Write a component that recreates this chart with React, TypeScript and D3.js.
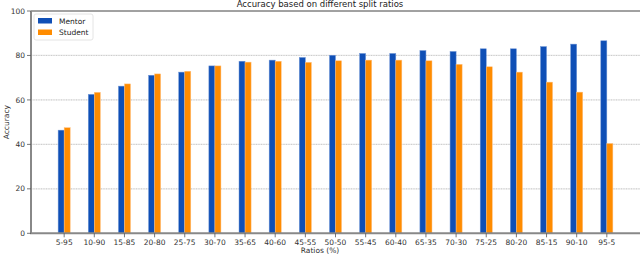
import * as d3 from 'd3';
import { useEffect, useRef } from 'react';

const categories = ['5-95', '10-90', '15-85', '20-80', '25-75', '30-70', '35-65', '40-60', '45-55', '50-50',
  '55-45', '60-40', '65-35', '70-30', '75-25', '80-20', '85-15', '90-10', '95-5'];
const mentor = [46.4, 62.5, 66.2, 71.1, 72.5, 75.3, 77.4, 77.9, 79.1, 80.1, 80.9, 80.9, 82.2, 81.8, 83.0, 83.0, 84.0, 85.1, 86.6];
const student = [47.5, 63.4, 67.2, 71.7, 72.9, 75.3, 77.0, 77.4, 76.9, 77.6, 77.9, 77.9, 77.6, 76.0, 74.9, 72.5, 68.0, 63.5, 40.4];
const yTicks = [0, 20, 40, 60, 80, 100];

const W = 640;
const H = 256;
const FONT = '"DejaVu Sans", sans-serif';
const MENTOR = '#0f4fb6';
const STUDENT = '#ff8c00';

export default function App() {
  const svgRef = useRef<SVGSVGElement>(null);

  useEffect(() => {
    if (!svgRef.current) return;
    const svg = d3.select(svgRef.current);
    svg.selectAll('*').remove();

    const left = 31, right = 640, top = 11, bottom = 233.3;
    const x = d3.scaleLinear().domain([-1.1, 19.1]).range([left, right]);
    const y = d3.scaleLinear().domain([0, 100]).range([bottom, top]);
    const bw = x(0.2) - x(0);

    // grid — faint solid under a dotted line
    const grid = svg.append('g');
    [20, 40, 60, 80].forEach(v => {
      grid.append('line').attr('x1', left).attr('x2', right).attr('y1', y(v)).attr('y2', y(v))
        .attr('stroke', '#e8e8e8').attr('stroke-width', 1.2);
      grid.append('line').attr('x1', left).attr('x2', right).attr('y1', y(v)).attr('y2', y(v))
        .attr('stroke', '#c4c4c4').attr('stroke-width', 0.8).attr('stroke-dasharray', '1,1.5');
    });

    // bars
    svg.append('g').selectAll('rect.m').data(mentor).join('rect')
      .attr('x', (_, i) => x(i) - bw).attr('width', bw)
      .attr('y', d => y(d)).attr('height', d => bottom - y(d))
      .attr('fill', MENTOR).attr('stroke', '#6f95d6').attr('stroke-width', 0.5);
    svg.append('g').selectAll('rect.s').data(student).join('rect')
      .attr('x', (_, i) => x(i)).attr('width', bw)
      .attr('y', d => y(d)).attr('height', d => bottom - y(d))
      .attr('fill', STUDENT).attr('stroke', '#ffc080').attr('stroke-width', 0.5);

    // spines
    svg.append('line').attr('x1', left).attr('x2', right).attr('y1', top).attr('y2', top)
      .attr('stroke', '#444').attr('stroke-width', 1);
    svg.append('line').attr('x1', left).attr('x2', left).attr('y1', top).attr('y2', bottom)
      .attr('stroke', '#888').attr('stroke-width', 2);
    svg.append('line').attr('x1', left - 1).attr('x2', right).attr('y1', bottom).attr('y2', bottom)
      .attr('stroke', '#888').attr('stroke-width', 2);

    // y axis
    const ya = svg.append('g');
    yTicks.forEach(v => {
      ya.append('line').attr('x1', left - 4).attr('x2', left).attr('y1', y(v)).attr('y2', y(v))
        .attr('stroke', '#555').attr('stroke-width', 0.8);
      ya.append('text').attr('x', left - 6).attr('y', y(v)).attr('dy', '0.35em')
        .attr('text-anchor', 'end').style('font-family', FONT).style('font-size', '7.5px')
        .attr('fill', '#333').text(v);
    });

    // x axis
    const xa = svg.append('g');
    categories.forEach((c, i) => {
      xa.append('line').attr('x1', x(i)).attr('x2', x(i)).attr('y1', bottom).attr('y2', bottom + 4)
        .attr('stroke', '#555').attr('stroke-width', 0.8);
      xa.append('text').attr('x', x(i)).attr('y', bottom + 12)
        .attr('text-anchor', 'middle').style('font-family', FONT).style('font-size', '7.5px')
        .attr('fill', '#333').text(c);
    });

    // labels
    svg.append('text').attr('x', 320).attr('y', 7).attr('text-anchor', 'middle')
      .style('font-family', FONT).style('font-size', '8.5px').attr('fill', '#222')
      .text('Accuracy based on different split ratios');
    svg.append('text').attr('x', 320).attr('y', 253).attr('text-anchor', 'middle')
      .style('font-family', FONT).style('font-size', '7.5px').attr('fill', '#333')
      .text('Ratios (%)');
    svg.append('text').attr('transform', `translate(9,${(top + bottom) / 2}) rotate(-90)`)
      .attr('text-anchor', 'middle').style('font-family', FONT).style('font-size', '7.5px')
      .attr('fill', '#333').text('Accuracy');

    // legend
    const lg = svg.append('g').attr('transform', 'translate(34,14)');
    lg.append('rect').attr('width', 59).attr('height', 26).attr('rx', 2)
      .attr('fill', 'white').attr('fill-opacity', 0.85).attr('stroke', '#ddd').attr('stroke-width', 0.8);
    [['Mentor', MENTOR], ['Student', STUDENT]].forEach(([label, color], i) => {
      lg.append('rect').attr('x', 4).attr('y', 4 + i * 11.5).attr('width', 14).attr('height', 5.5)
        .attr('fill', color);
      lg.append('text').attr('x', 25).attr('y', 7 + i * 11.5).attr('dy', '0.35em')
        .style('font-family', FONT).style('font-size', '7.5px').attr('fill', '#222').text(label);
    });
  }, []);

  return (
    <div style={{ position: 'fixed', left: 0, top: 0 }}>
      <svg ref={svgRef} width={W} height={H} style={{ display: 'block', background: 'white' }} />
    </div>
  );
}
